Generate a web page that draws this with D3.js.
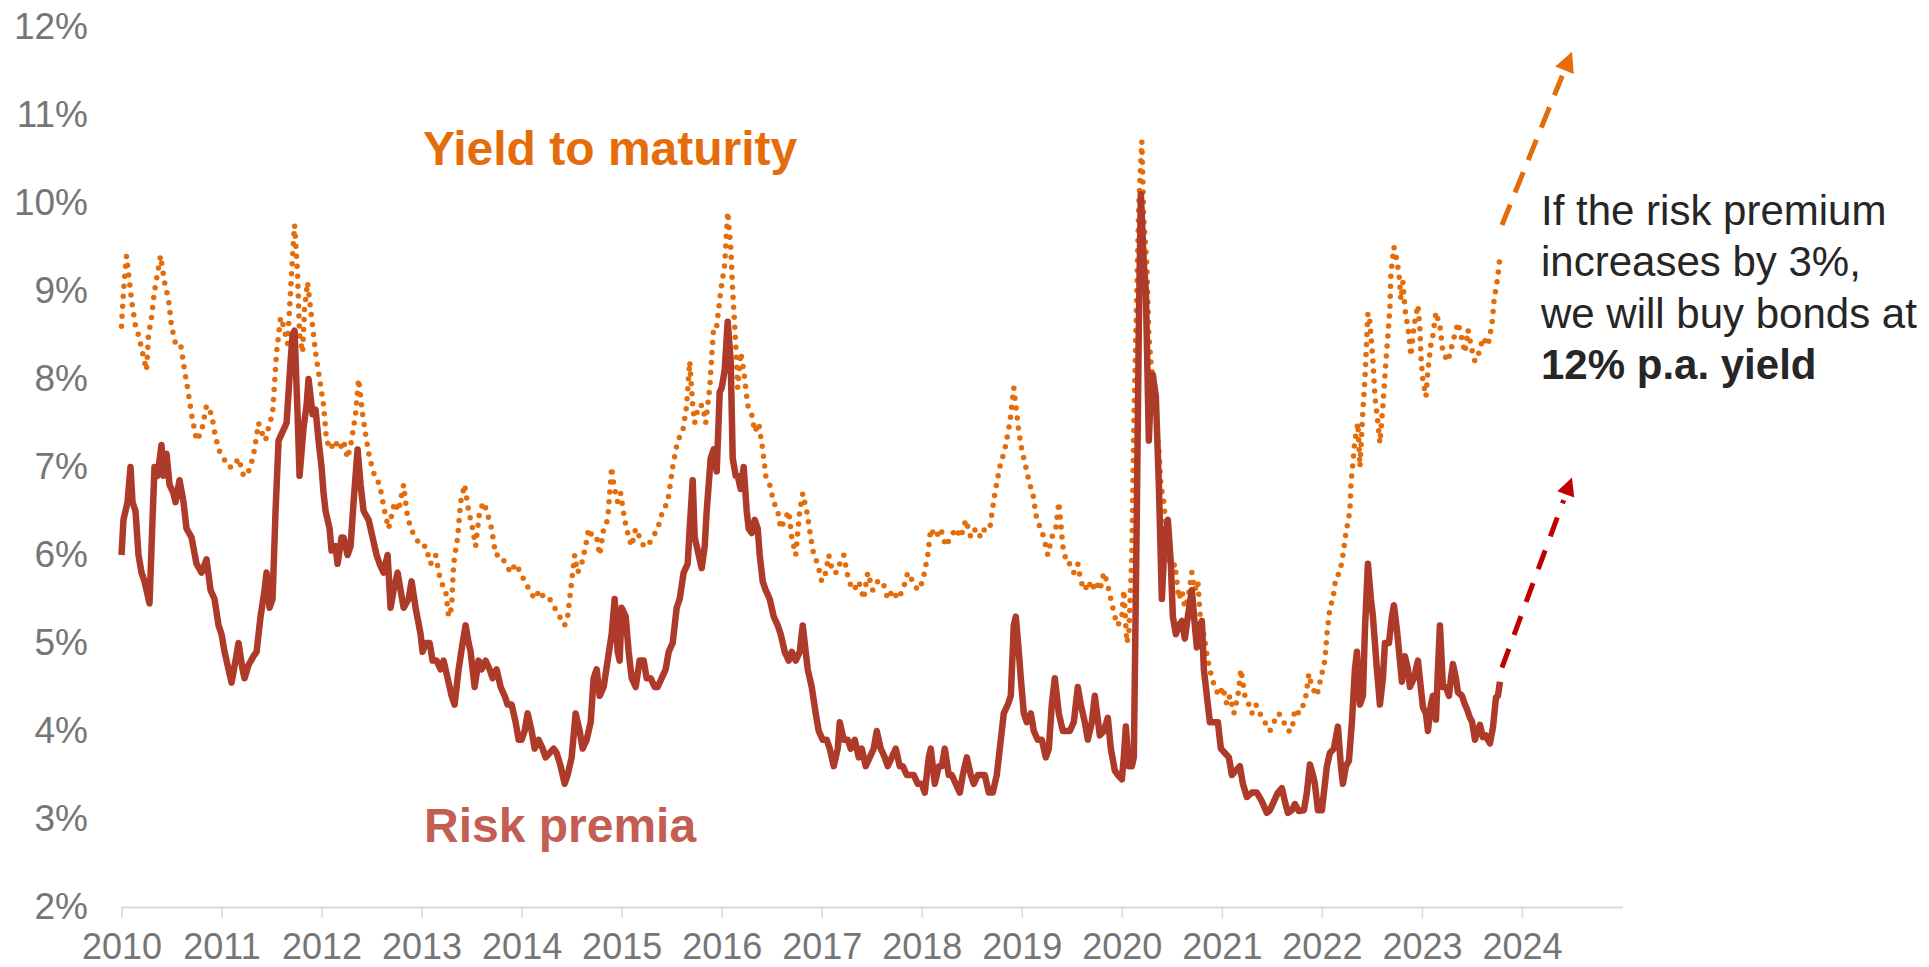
<!DOCTYPE html>
<html>
<head>
<meta charset="utf-8">
<script src="https://cdn.jsdelivr.net/npm/d3@7"></script>
<style>
  body { margin: 0; background: #fff; }
  svg { display: block; font-family: "Liberation Sans", Arial, sans-serif; }
</style>
</head>
<body>
<svg id="chart"></svg>
<script>
// ---- data (decimal year / percent) ----
var yieldToMaturity = [
  [2010.00,8.6],[2010.02,9.0],[2010.05,9.4],[2010.07,9.2],[2010.10,8.9],[2010.14,8.6],[2010.17,8.5],[2010.21,8.3],[2010.25,8.1],[2010.27,8.5],
  [2010.30,8.7],[2010.33,9.0],[2010.36,9.2],[2010.39,9.4],[2010.43,9.1],[2010.47,8.9],[2010.50,8.6],[2010.54,8.4],[2010.59,8.4],[2010.63,8.1],
  [2010.66,7.9],[2010.70,7.6],[2010.75,7.3],[2010.80,7.4],[2010.85,7.7],[2010.90,7.6],[2010.93,7.4],[2010.97,7.2],
  [2011.02,7.1],[2011.07,7.0],[2011.12,7.0],[2011.17,7.1],[2011.22,6.9],[2011.25,6.9],[2011.29,7.0],[2011.33,7.2],[2011.37,7.5],[2011.40,7.4],
  [2011.44,7.3],[2011.48,7.5],[2011.51,7.6],[2011.55,8.3],[2011.59,8.7],[2011.62,8.6],[2011.66,8.4],[2011.69,9.0],[2011.71,9.4],[2011.73,9.75],
  [2011.76,9.2],[2011.78,8.5],[2011.81,8.3],[2011.83,8.8],[2011.86,9.1],[2011.88,8.9],[2011.91,8.6],[2011.94,8.3],[2011.98,8.0],
  [2012.02,7.7],[2012.05,7.3],[2012.09,7.2],[2012.13,7.3],[2012.18,7.2],[2012.22,7.3],[2012.26,7.1],[2012.30,7.3],[2012.34,7.6],[2012.37,8.0],
  [2012.41,7.6],[2012.45,7.3],[2012.48,7.1],[2012.53,6.9],[2012.58,6.8],[2012.63,6.5],[2012.67,6.3],[2012.69,6.4],[2012.73,6.6],[2012.77,6.5],
  [2012.82,6.8],[2012.85,6.5],[2012.89,6.3],[2012.94,6.2],[2012.99,6.1],
  [2013.04,6.1],[2013.09,5.9],[2013.14,6.0],[2013.19,5.7],[2013.24,5.6],[2013.27,5.3],[2013.30,5.4],[2013.32,5.9],[2013.36,6.2],[2013.39,6.6],
  [2013.43,6.8],[2013.47,6.5],[2013.51,6.3],[2013.54,6.1],[2013.58,6.5],[2013.62,6.6],[2013.65,6.5],[2013.70,6.3],[2013.74,6.0],[2013.79,6.0],
  [2013.84,5.9],[2013.89,5.8],[2013.94,5.9],[2013.99,5.8],
  [2014.03,5.7],[2014.08,5.6],[2014.13,5.5],[2014.18,5.6],[2014.23,5.5],[2014.28,5.5],[2014.33,5.4],[2014.38,5.3],[2014.43,5.2],[2014.46,5.3],
  [2014.50,5.7],[2014.53,6.0],[2014.56,5.8],[2014.60,5.9],[2014.64,6.1],[2014.67,6.3],[2014.71,6.2],[2014.75,6.2],[2014.78,6.0],[2014.82,6.3],
  [2014.86,6.4],[2014.90,7.0],[2014.92,6.8],[2014.96,6.6],[2014.99,6.7],
  [2015.03,6.4],[2015.07,6.2],[2015.10,6.1],[2015.14,6.3],[2015.18,6.2],[2015.22,6.1],[2015.26,6.1],[2015.31,6.2],[2015.36,6.3],[2015.41,6.5],
  [2015.46,6.6],[2015.51,7.0],[2015.56,7.3],[2015.61,7.4],[2015.65,7.7],[2015.68,8.2],[2015.71,7.7],[2015.73,7.5],[2015.77,7.7],[2015.81,7.7],
  [2015.84,7.5],[2015.88,7.9],[2015.92,8.6],[2015.95,8.6],[2015.99,9.0],
  [2016.03,9.3],[2016.06,9.9],[2016.09,9.5],[2016.11,9.0],[2016.14,8.4],[2016.16,7.9],[2016.19,8.3],[2016.22,8.1],[2016.26,7.7],[2016.30,7.6],
  [2016.33,7.4],[2016.37,7.5],[2016.41,7.2],[2016.44,6.9],[2016.48,6.8],[2016.52,6.6],[2016.56,6.5],[2016.59,6.3],[2016.63,6.4],[2016.67,6.5],
  [2016.70,6.2],[2016.74,6.0],[2016.78,6.5],[2016.81,6.7],[2016.85,6.5],[2016.89,6.2],[2016.92,6.0],[2016.96,5.9],
  [2017.00,5.7],[2017.04,5.8],[2017.07,6.0],[2017.11,5.8],[2017.15,5.8],[2017.18,5.9],[2017.22,6.0],[2017.27,5.7],[2017.32,5.6],[2017.37,5.7],
  [2017.42,5.5],[2017.46,5.8],[2017.51,5.6],[2017.56,5.7],[2017.61,5.7],[2017.66,5.5],[2017.71,5.6],[2017.76,5.5],[2017.81,5.6],[2017.86,5.8],
  [2017.91,5.7],[2017.96,5.6],
  [2018.01,5.7],[2018.06,6.0],[2018.09,6.3],[2018.14,6.2],[2018.19,6.3],[2018.24,6.1],[2018.29,6.2],[2018.34,6.3],[2018.39,6.2],[2018.44,6.4],
  [2018.49,6.2],[2018.54,6.3],[2018.59,6.2],[2018.63,6.3],[2018.68,6.3],[2018.73,6.7],[2018.78,7.0],[2018.83,7.2],[2018.88,7.5],[2018.92,7.9],
  [2018.94,7.7],[2018.97,7.4],
  [2019.00,7.2],[2019.04,7.0],[2019.08,6.8],[2019.11,6.7],[2019.15,6.4],[2019.19,6.3],[2019.22,6.2],[2019.26,6.0],[2019.30,6.2],[2019.34,6.3],
  [2019.37,6.6],[2019.41,6.1],[2019.45,5.9],[2019.48,5.9],[2019.52,5.8],[2019.56,5.9],[2019.59,5.7],[2019.63,5.6],[2019.67,5.7],[2019.70,5.6],
  [2019.74,5.7],[2019.78,5.6],[2019.82,5.8],[2019.85,5.7],[2019.89,5.5],[2019.93,5.3],[2019.96,5.2],
  [2020.00,5.3],[2020.02,5.6],[2020.05,5.0],[2020.07,5.1],[2020.10,6.0],[2020.12,7.5],[2020.15,9.0],[2020.17,10.0],[2020.20,10.7],[2020.22,9.8],
  [2020.25,9.3],[2020.27,8.5],[2020.29,8.2],[2020.32,7.9],[2020.34,7.6],[2020.37,7.2],[2020.39,6.8],[2020.42,6.6],[2020.44,6.3],[2020.47,6.0],
  [2020.49,5.8],[2020.53,5.9],[2020.57,5.5],[2020.60,5.6],[2020.63,5.4],[2020.66,5.5],[2020.70,5.8],[2020.73,5.6],[2020.76,5.7],[2020.79,5.2],
  [2020.82,5.1],[2020.86,4.8],[2020.90,4.6],[2020.93,4.5],[2020.97,4.4],
  [2021.01,4.5],[2021.05,4.3],[2021.08,4.4],[2021.12,4.2],[2021.16,4.4],[2021.19,4.7],[2021.23,4.4],[2021.27,4.3],[2021.30,4.2],[2021.34,4.3],
  [2021.38,4.2],[2021.43,4.1],[2021.48,4.0],[2021.52,4.1],[2021.57,4.2],[2021.62,4.1],[2021.66,4.0],[2021.70,4.0],[2021.73,4.25],[2021.77,4.2],
  [2021.80,4.25],[2021.84,4.4],[2021.87,4.65],[2021.90,4.5],[2021.95,4.4],
  [2022.00,4.65],[2022.03,4.8],[2022.05,5.1],[2022.08,5.4],[2022.11,5.5],[2022.14,5.75],[2022.18,5.8],[2022.21,6.0],[2022.24,6.25],[2022.28,6.5],
  [2022.29,6.8],[2022.31,7.05],[2022.33,7.3],[2022.36,7.5],[2022.38,7.0],[2022.41,7.65],[2022.43,8.0],[2022.46,8.75],[2022.48,8.65],[2022.51,8.2],
  [2022.53,7.8],[2022.56,7.5],[2022.58,7.27],[2022.61,7.7],[2022.64,8.2],[2022.68,8.8],[2022.69,9.2],[2022.72,9.5],[2022.74,9.4],[2022.77,9.2],
  [2022.79,8.9],[2022.81,9.1],[2022.83,8.8],[2022.87,8.5],[2022.89,8.26],[2022.92,8.6],[2022.96,8.84],[2022.98,8.56],[2022.99,8.26],
  [2023.01,7.98],[2023.04,7.8],[2023.06,8.1],[2023.09,8.4],[2023.11,8.5],[2023.14,8.76],[2023.18,8.6],[2023.21,8.3],[2023.26,8.2],[2023.30,8.38],
  [2023.36,8.64],[2023.39,8.5],[2023.43,8.3],[2023.46,8.56],[2023.50,8.33],[2023.53,8.2],[2023.57,8.3],[2023.61,8.47],[2023.66,8.38],[2023.70,8.62],
  [2023.72,8.88],[2023.74,9.03],[2023.76,9.17],[2023.78,9.4]
];

var riskPremia = [
  [2010.00,6.0],[2010.02,6.4],[2010.06,6.6],[2010.09,7.0],[2010.11,6.6],[2010.14,6.5],[2010.17,6.0],[2010.20,5.8],[2010.23,5.7],[2010.28,5.45],
  [2010.31,6.4],[2010.33,7.0],[2010.36,6.9],[2010.40,7.25],[2010.42,6.9],[2010.45,7.15],[2010.48,6.8],[2010.52,6.7],[2010.54,6.6],[2010.58,6.85],
  [2010.62,6.6],[2010.65,6.3],[2010.70,6.2],[2010.75,5.9],[2010.80,5.8],[2010.85,5.95],[2010.89,5.6],[2010.93,5.5],[2010.97,5.2],
  [2011.00,5.1],[2011.03,4.9],[2011.07,4.7],[2011.10,4.55],[2011.14,4.8],[2011.17,5.0],[2011.21,4.7],[2011.23,4.6],[2011.27,4.75],[2011.32,4.85],
  [2011.35,4.9],[2011.39,5.3],[2011.43,5.6],[2011.45,5.8],[2011.48,5.4],[2011.51,5.5],[2011.54,6.5],[2011.57,7.3],[2011.61,7.4],[2011.65,7.5],
  [2011.69,8.2],[2011.71,8.5],[2011.73,8.55],[2011.76,7.6],[2011.78,6.9],[2011.82,7.45],[2011.85,7.7],[2011.87,8.0],[2011.91,7.6],[2011.94,7.65],
  [2011.97,7.3],
  [2012.00,7.0],[2012.02,6.7],[2012.04,6.5],[2012.08,6.3],[2012.10,6.05],[2012.14,6.1],[2012.16,5.9],[2012.20,6.2],[2012.22,6.2],[2012.26,6.0],
  [2012.29,6.1],[2012.32,6.6],[2012.36,7.2],[2012.39,6.8],[2012.42,6.5],[2012.47,6.4],[2012.51,6.2],[2012.55,6.0],[2012.58,5.9],[2012.62,5.8],
  [2012.66,6.0],[2012.69,5.4],[2012.72,5.6],[2012.76,5.8],[2012.79,5.6],[2012.82,5.4],[2012.87,5.5],[2012.90,5.7],[2012.94,5.4],[2012.99,5.1],
  [2013.01,4.9],[2013.04,5.0],[2013.08,5.0],[2013.11,4.8],[2013.15,4.8],[2013.19,4.7],[2013.22,4.8],[2013.26,4.6],[2013.30,4.4],[2013.33,4.3],
  [2013.37,4.7],[2013.41,5.0],[2013.44,5.2],[2013.47,5.0],[2013.49,4.9],[2013.53,4.5],[2013.57,4.8],[2013.60,4.7],[2013.64,4.8],[2013.68,4.7],
  [2013.71,4.6],[2013.75,4.7],[2013.79,4.5],[2013.83,4.4],[2013.86,4.3],[2013.90,4.3],[2013.94,4.1],[2013.97,3.9],
  [2014.00,3.9],[2014.03,4.0],[2014.06,4.2],[2014.10,4.0],[2014.13,3.8],[2014.17,3.9],[2014.21,3.8],[2014.24,3.7],[2014.28,3.75],[2014.32,3.8],
  [2014.35,3.75],[2014.39,3.6],[2014.43,3.4],[2014.46,3.5],[2014.50,3.7],[2014.54,4.2],[2014.58,4.0],[2014.61,3.8],[2014.65,3.9],[2014.69,4.1],
  [2014.72,4.6],[2014.75,4.7],[2014.78,4.4],[2014.82,4.5],[2014.86,4.8],[2014.90,5.1],[2014.93,5.5],[2014.96,4.9],[2014.98,4.8],
  [2015.00,5.4],[2015.04,5.3],[2015.07,4.9],[2015.10,4.6],[2015.14,4.5],[2015.18,4.8],[2015.22,4.8],[2015.25,4.6],[2015.29,4.6],[2015.33,4.5],
  [2015.36,4.5],[2015.40,4.6],[2015.44,4.7],[2015.47,4.9],[2015.51,5.0],[2015.55,5.4],[2015.58,5.5],[2015.62,5.8],[2015.66,5.9],[2015.68,6.3],
  [2015.71,6.85],[2015.73,6.2],[2015.77,6.0],[2015.80,5.85],[2015.83,6.1],[2015.85,6.5],[2015.89,7.1],[2015.92,7.2],[2015.95,6.95],[2015.98,7.85],
  [2016.00,7.9],[2016.03,8.1],[2016.06,8.65],[2016.09,8.2],[2016.11,7.1],[2016.14,6.9],[2016.16,6.9],[2016.19,6.75],[2016.22,7.0],[2016.25,6.5],
  [2016.27,6.3],[2016.30,6.25],[2016.33,6.4],[2016.36,6.3],[2016.38,6.0],[2016.41,5.7],[2016.44,5.6],[2016.48,5.5],[2016.52,5.3],[2016.56,5.2],
  [2016.59,5.1],[2016.63,4.9],[2016.67,4.8],[2016.70,4.9],[2016.74,4.8],[2016.78,4.9],[2016.81,5.2],[2016.84,4.9],[2016.86,4.7],[2016.90,4.5],
  [2016.94,4.2],[2016.97,4.0],
  [2017.01,3.9],[2017.05,3.9],[2017.08,3.8],[2017.12,3.6],[2017.16,3.8],[2017.18,4.1],[2017.22,3.9],[2017.26,3.9],[2017.29,3.8],[2017.33,3.9],
  [2017.37,3.7],[2017.40,3.8],[2017.44,3.6],[2017.48,3.7],[2017.52,3.8],[2017.55,4.0],[2017.59,3.8],[2017.63,3.7],[2017.66,3.6],[2017.70,3.7],
  [2017.74,3.8],[2017.78,3.6],[2017.81,3.6],[2017.85,3.5],[2017.88,3.5],[2017.92,3.5],[2017.96,3.4],
  [2018.00,3.4],[2018.03,3.3],[2018.07,3.7],[2018.09,3.8],[2018.13,3.4],[2018.17,3.6],[2018.20,3.6],[2018.23,3.8],[2018.27,3.5],[2018.30,3.5],
  [2018.34,3.4],[2018.38,3.3],[2018.41,3.5],[2018.45,3.7],[2018.49,3.5],[2018.52,3.4],[2018.56,3.5],[2018.60,3.5],[2018.63,3.5],[2018.67,3.3],
  [2018.71,3.3],[2018.75,3.5],[2018.78,3.8],[2018.82,4.2],[2018.86,4.3],[2018.89,4.4],[2018.92,5.2],[2018.94,5.3],[2018.97,4.9],[2018.99,4.6],
  [2019.02,4.2],[2019.05,4.1],[2019.09,4.2],[2019.12,4.0],[2019.16,3.9],[2019.20,3.9],[2019.24,3.7],[2019.27,3.8],[2019.30,4.3],[2019.33,4.6],
  [2019.37,4.2],[2019.41,4.0],[2019.45,4.0],[2019.48,4.0],[2019.52,4.1],[2019.56,4.5],[2019.59,4.3],[2019.63,4.1],[2019.66,3.9],[2019.70,4.1],
  [2019.73,4.4],[2019.78,3.95],[2019.82,4.0],[2019.86,4.15],[2019.89,3.8],[2019.93,3.55],[2019.96,3.5],
  [2020.00,3.45],[2020.02,3.7],[2020.04,4.05],[2020.07,3.6],[2020.10,3.6],[2020.12,3.7],[2020.15,6.5],[2020.17,8.6],[2020.19,10.1],[2020.22,9.3],
  [2020.24,9.0],[2020.27,7.3],[2020.29,7.9],[2020.31,8.05],[2020.34,7.8],[2020.37,6.8],[2020.40,5.5],[2020.43,6.2],[2020.46,6.4],[2020.49,5.9],
  [2020.51,5.3],[2020.54,5.1],[2020.57,5.2],[2020.60,5.25],[2020.63,5.05],[2020.66,5.3],[2020.70,5.6],[2020.73,5.2],[2020.75,4.95],[2020.78,5.2],
  [2020.80,5.25],[2020.82,4.7],[2020.85,4.4],[2020.88,4.1],[2020.92,4.1],[2020.96,4.1],[2020.99,3.8],
  [2021.03,3.75],[2021.07,3.7],[2021.10,3.5],[2021.14,3.55],[2021.18,3.6],[2021.21,3.4],[2021.25,3.25],[2021.30,3.3],[2021.35,3.3],[2021.40,3.2],
  [2021.45,3.07],[2021.48,3.1],[2021.52,3.2],[2021.56,3.3],[2021.60,3.35],[2021.63,3.2],[2021.66,3.07],[2021.70,3.1],[2021.73,3.17],[2021.77,3.09],
  [2021.82,3.1],[2021.85,3.3],[2021.88,3.62],[2021.91,3.5],[2021.93,3.4],[2021.96,3.1],
  [2022.00,3.1],[2022.03,3.4],[2022.05,3.6],[2022.08,3.75],[2022.12,3.8],[2022.16,4.05],[2022.19,3.6],[2022.21,3.4],[2022.24,3.6],[2022.27,3.66],
  [2022.30,4.1],[2022.33,4.7],[2022.35,4.9],[2022.38,4.3],[2022.41,4.4],[2022.43,5.15],[2022.46,5.9],[2022.49,5.5],[2022.51,5.3],[2022.55,4.7],
  [2022.58,4.3],[2022.61,4.6],[2022.63,5.0],[2022.67,5.0],[2022.70,5.3],[2022.72,5.43],[2022.75,5.15],[2022.78,4.8],[2022.80,4.56],[2022.83,4.85],
  [2022.86,4.7],[2022.88,4.5],[2022.92,4.6],[2022.96,4.8],
  [2023.01,4.27],[2023.04,4.2],[2023.06,4.0],[2023.09,4.3],[2023.11,4.4],[2023.14,4.13],[2023.16,4.7],[2023.18,5.2],[2023.21,4.5],[2023.24,4.5],
  [2023.27,4.4],[2023.29,4.6],[2023.31,4.76],[2023.34,4.6],[2023.36,4.44],[2023.40,4.4],[2023.43,4.3],[2023.45,4.25],[2023.48,4.15],[2023.50,4.11],
  [2023.53,3.9],[2023.56,4.0],[2023.58,4.07],[2023.61,3.93],[2023.64,3.95],[2023.66,3.9],[2023.68,3.86],[2023.71,4.04],[2023.74,4.38],[2023.76,4.4],
  [2023.78,4.56]
];

var xTicks = [2010, 2011, 2012, 2013, 2014, 2015, 2016, 2017, 2018, 2019, 2020, 2021, 2022, 2023, 2024];
var yTicks = [2, 3, 4, 5, 6, 7, 8, 9, 10, 11, 12];

// projection arrows: [start, tip]
var ytmArrow = [[2023.80, 9.75], [2024.50, 11.72]];
var rpArrow = [[2023.80, 4.72], [2024.50, 6.88]];

var noteLines = ["If the risk premium", "increases by 3%,", "we will buy bonds at"];
var noteBold = "12% p.a. yield";

// ---- chart ----
var width = 1929, height = 967;
var svg = d3.select('#chart').attr('width', width).attr('height', height);

var x = d3.scaleLinear().domain([2010, 2025]).range([121.5, 1622]);
var y = d3.scaleLinear().domain([2, 12]).range([907, 27]);

// x axis
var gx = svg.append('g')
    .attr('transform', 'translate(0,' + y(2) + ')')
    .call(d3.axisBottom(x).tickValues(xTicks).tickSize(11).tickSizeOuter(0).tickFormat(d3.format('d')));
gx.select('.domain').attr('stroke', '#d9d9d9').attr('stroke-width', 2);
gx.selectAll('.tick line').attr('stroke', '#d9d9d9').attr('stroke-width', 1.5);
gx.selectAll('.tick text')
    .attr('y', 26)
    .attr('fill', '#767676')
    .style('font-size', '36px')
    .style('font-family', '"Liberation Sans", Arial, sans-serif');

// y axis, labels only
var gy = svg.append('g')
    .attr('transform', 'translate(88,0)')
    .call(d3.axisLeft(y).tickValues(yTicks).tickSize(0).tickPadding(0).tickFormat(function(d) { return d + '%'; }));
gy.select('.domain').remove();
gy.selectAll('.tick text')
    .attr('fill', '#767676')
    .style('font-size', '37px')
    .style('font-family', '"Liberation Sans", Arial, sans-serif');

var line = d3.line()
    .x(function(d) { return x(d[0]); })
    .y(function(d) { return y(d[1]); });

// yield to maturity: dotted
svg.append('path')
    .datum(yieldToMaturity)
    .attr('d', line)
    .attr('fill', 'none')
    .attr('stroke', '#E46C0A')
    .attr('stroke-width', 5.5)
    .attr('stroke-linecap', 'round')
    .attr('stroke-dasharray', '0 10');

// risk premia: solid
svg.append('path')
    .datum(riskPremia)
    .attr('d', line)
    .attr('fill', 'none')
    .attr('stroke', '#AE3A2A')
    .attr('stroke-width', 6.5)
    .attr('stroke-linejoin', 'round');

// dashed arrows
function arrow(pts, color, dash, w, head) {
    var x0 = x(pts[0][0]), y0 = y(pts[0][1]);
    var x1 = x(pts[1][0]), y1 = y(pts[1][1]);
    var a = Math.atan2(y1 - y0, x1 - x0);
    var bx = x1 - Math.cos(a) * head, by = y1 - Math.sin(a) * head;
    svg.append('line')
        .attr('x1', x0).attr('y1', y0)
        .attr('x2', x1 - Math.cos(a) * (head + 6)).attr('y2', y1 - Math.sin(a) * (head + 6))
        .attr('stroke', color)
        .attr('stroke-width', w)
        .attr('stroke-dasharray', dash);
    var hw = head * 0.5;
    svg.append('path')
        .attr('d', 'M' + x1 + ',' + y1 +
            'L' + (bx + Math.sin(a) * hw) + ',' + (by - Math.cos(a) * hw) +
            'L' + (bx - Math.sin(a) * hw) + ',' + (by + Math.cos(a) * hw) + 'Z')
        .attr('fill', color);
}
arrow(ytmArrow, '#E46C0A', '22 13', 5, 20);
arrow(rpArrow, '#C00000', '20 15', 5, 18);

// series labels
svg.append('text')
    .attr('x', 423).attr('y', 165)
    .attr('fill', '#E46C0A')
    .style('font-size', '48px').style('font-weight', 'bold')
    .text('Yield to maturity');

svg.append('text')
    .attr('x', 424).attr('y', 842)
    .attr('fill', '#C25E52')
    .style('font-size', '48px').style('font-weight', 'bold')
    .text('Risk premia');

// note
var note = svg.append('text')
    .attr('x', 1541).attr('y', 225)
    .attr('fill', '#262626')
    .style('font-size', '42px');
noteLines.forEach(function(t, i) {
    note.append('tspan').attr('x', 1541).attr('dy', i === 0 ? 0 : 51.3).text(t);
});
note.append('tspan').attr('x', 1541).attr('dy', 51.3).style('font-weight', 'bold').text(noteBold);
</script>
</body>
</html>
